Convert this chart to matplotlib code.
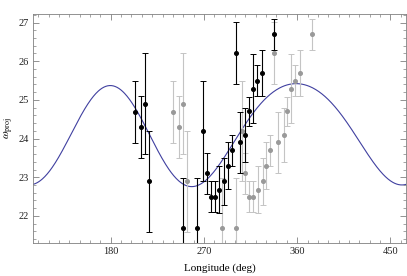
# omega_proj against longitude, with the model curve and two data sets

import numpy as np
import matplotlib.pyplot as plt

lon_black = [203.6, 208.9, 212.8, 216.7, 250.2, 263.7, 269.5, 272.7, 276.5, 280.8, 284.9,
             289.8, 292.9, 296.8, 300.7, 304.9, 310.0, 313.4, 316.9, 320.9, 325.8, 337.4]
w_black = [24.68, 24.29, 24.90, 22.89, 21.69, 21.69, 24.20, 23.10, 22.50, 22.50, 22.68,
           22.89, 23.30, 23.70, 26.21, 23.90, 24.10, 24.70, 25.29, 25.50, 25.69, 26.70]
err_black = [0.8, 0.8, 1.3, 1.3, 1.3, 1.3, 1.3, 0.53, 0.4, 0.4, 0.6,
             0.62, 0.6, 0.4, 0.8, 0.78, 0.7, 0.38, 0.9, 0.4, 0.6, 0.4]

# gray copy of the same points, shifted in longitude
lon_offset = 37.0
lon_gray = [l + lon_offset for l in lon_black]

# model curve, sampled off the chart
curve_lon = [105, 124, 150, 180, 203, 232, 255, 275, 295, 309, 323.5, 360, 394, 417, 430, 452, 465]
curve_w = [22.83, 23.19, 24.53, 25.38, 24.92, 23.19, 22.83, 23.11, 23.75, 24.23, 24.83,
           25.54, 24.83, 23.97, 23.58, 22.94, 22.82]

# smooth periodic fit through the curve samples
def basis(x):
    r = np.radians(x)
    cols = [np.ones_like(r)]
    for n in (1, 2, 3):
        cols += [np.cos(n * r), np.sin(n * r)]
    return np.column_stack(cols)

coef = np.linalg.lstsq(basis(np.array(curve_lon, float)), np.array(curve_w), rcond=None)[0]
xs = np.linspace(105, 465, 600)
ys = basis(xs) @ coef

plt.rcParams['font.family'] = 'Liberation Serif'
plt.rcParams['mathtext.fontset'] = 'stix'

fig = plt.figure(figsize=(4.07, 2.76), dpi=100)
ax = fig.add_axes([33/407, 1 - 243/276, 373/407, 229/276])

ax.plot(xs, ys, '-', color='#4040a0', lw=0.8, zorder=1)
ax.errorbar(lon_gray, w_black, yerr=err_black, fmt='o', ms=2.6, color='#999999',
            ecolor='#c4c4c4', elinewidth=0.8, capsize=2, capthick=0.7, zorder=2)
ax.errorbar(lon_black, w_black, yerr=err_black, fmt='o', ms=2.6, color='black',
            ecolor='black', elinewidth=0.8, capsize=2, capthick=0.7, zorder=3)

ax.set_xlim(105, 465)
ax.set_ylim(21.3, 27.22)
ax.set_xticks([180, 270, 360, 450])
ax.set_xticks(np.arange(110, 465, 10), minor=True)
ax.set_yticks([22, 23, 24, 25, 26, 27])
ax.set_yticks(np.arange(21.4, 27.21, 0.2), minor=True)

ax.tick_params(which='both', direction='in', top=True, right=True, color='#808080',
               labelsize=7.5, labelcolor='#222222', pad=3)
ax.tick_params(which='major', length=4, width=0.6)
ax.tick_params(which='minor', length=2, width=0.5)
for s in ax.spines.values():
    s.set_color('#808080')
    s.set_linewidth(0.6)

ax.set_xlabel("Longitude (deg)", fontsize=8, labelpad=5)
ax.set_ylabel(r"$\omega_{\rm proj}$", fontsize=8, labelpad=2)

plt.savefig("out.png", dpi=100)
